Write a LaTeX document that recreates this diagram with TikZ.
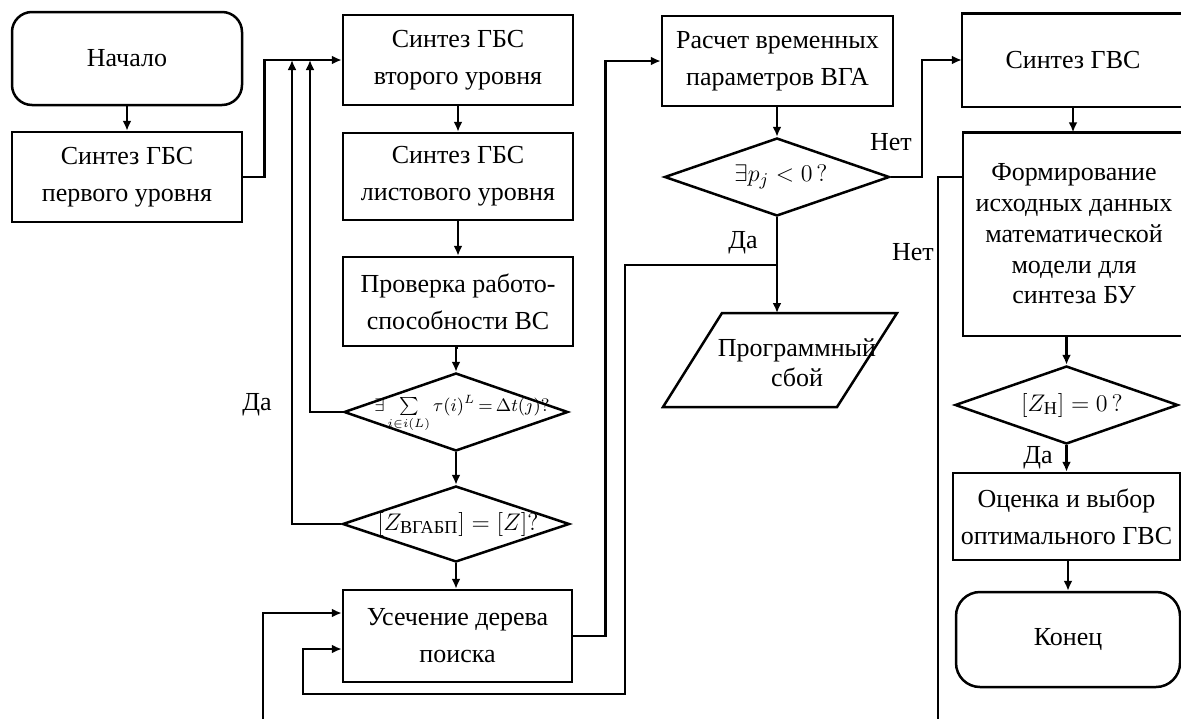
\documentclass[tikz,border=0pt]{standalone}
\usepackage{fontspec}
\setmainfont{Liberation Serif}
\usepackage{amsmath}
\usetikzlibrary{shapes.geometric,arrows.meta}
\begin{document}
\begin{tikzpicture}[x=0.5pt,y=-0.5pt,
  line width=1.25pt,
  box/.style={draw, rectangle, inner sep=0pt, align=center, font=\fontsize{13}{18.5}\selectfont},
  obox/.style={rectangle, inner sep=0pt, align=center, font=\fontsize{13}{18.5}\selectfont},
  rbox/.style={box, rounded corners=10pt},
  dia/.style={draw, diamond, inner sep=0pt},
  dtxt/.style={inner sep=0pt, font=\fontsize{13}{15}\selectfont},
  arr/.style={-{Latex[length=5pt,width=4.5pt]}},
  lbl/.style={inner sep=0pt, font=\fontsize{13}{15}\selectfont}]
\useasboundingbox (0,0) rectangle (1181,718);
\clip (0,0) rectangle (1181,718);
% left column
\node[rbox, minimum width=115pt, minimum height=46.5pt] (start) at (127,58.5) {Начало};
\node[box, minimum width=115pt, minimum height=45pt] (s1) at (127,177) {Синтез ГБС\\первого уровня};
% second column
\node[box, minimum width=115pt, minimum height=45pt] (s2) at (458,60) {Синтез ГБС\\второго уровня};
\node[box, minimum width=115pt, minimum height=43.5pt] (s3) at (458,176.5) {Синтез ГБС\\листового уровня};
\node[box, minimum width=115pt, minimum height=44.5pt] (chk) at (458,301.5) {Проверка работо-\\способности ВС};
\node[dia, minimum width=112pt, minimum height=39pt] (d1) at (456,412) {};
\node[inner sep=0pt, font=\fontsize{9}{10}\selectfont] (d1t) at (462,414) {$\exists\textstyle\sum\limits_{i\in i(L)}\tau(i)^L\mkern-2mu=\mkern-2mu\Delta t(j)?$};
\node[dia, minimum width=113.5pt, minimum height=38pt] (d2) at (456,524) {};
\node[dtxt] (d2t) at (458,524) {$\left[Z_{\text{ВГАБП}}\right]=\left[Z\right]?$};
\node[box, minimum width=114.5pt, minimum height=46pt] (cut) at (457.5,636) {Усечение дерева\\поиска};
% third column
\node[box, minimum width=115.5pt, minimum height=45pt] (calc) at (777.5,61) {Расчет временных\\параметров ВГА};
\node[dia, minimum width=112.5pt, minimum height=39pt] (dp) at (777,177) {};
\node[dtxt] (dpt) at (781,177) {$\exists p_j<0\,?$};
\draw (722,313) coordinate (fA) -- (897,313) coordinate (fB) -- (837,407) coordinate (fC) -- (663,407) coordinate (fD) -- cycle;
\node[inner sep=0pt, align=center, font=\fontsize{13}{15}\selectfont] (fail) at (797,363) {Программный\\сбой};
\coordinate (failtop) at (777,313);
% fourth column (right sides run off the page)
\node[obox, minimum width=110pt, minimum height=45.5pt] (gvs) at (1073,60) {Синтез ГВС};
\draw (gvs.north east) -- (gvs.north west) -- (gvs.south west) -- (gvs.south east);
\node[obox, minimum width=110pt, minimum height=100.5pt, font=\fontsize{13}{15.4}\selectfont] (form) at (1074,234) {Формирование\\исходных данных\\математической\\модели для\\синтеза БУ};
\draw (form.north east) -- (form.north west) -- (form.south west) -- (form.south east);
\node[dia, minimum width=111.5pt, minimum height=39pt] (dz) at (1066.5,405) {};
\node[dtxt] (dzt) at (1072,405) {$\left[Z_{\text{Н}}\right]=0\,?$};
\node[box, minimum width=113.5pt, minimum height=43.5pt] (eval) at (1066.5,516.5) {Оценка и выбор\\оптимального ГВС};
\node[rbox, rounded corners=12pt, minimum width=112pt, minimum height=47.5pt] (end) at (1068,639.5) {Конец};
% labels
\node[lbl] (da1) at (257,405) {Да};
\node[lbl] (net1) at (891,142) {Нет};
\node[lbl] (da2) at (743,243) {Да};
\node[lbl] (net2) at (913,252) {Нет};
\node[lbl] (da3) at (1038,458) {Да};
% coordinates
\coordinate (j1) at (310,60);
\coordinate (j2) at (292,60);
\coordinate (br) at (777,265);
\coordinate (fb1) at (263,720);
\coordinate (fb2) at (938,720);
% connectors
\draw[arr] (start) -- (s1);
\draw[arr] (s1.east) -- ++(21,0) |- (s2.west);
\draw[arr] (s2) -- (s3);
\draw[arr] (s3) -- (chk);
\draw[arr] (chk.south) -- (chk.south -| d1.north) -- (d1.north);
\draw[arr] (d1) -- (d2);
\draw[arr] (d2) -- (d2 |- cut.north);
\draw[arr] (d1.west) -| (j1);
\draw[arr] (d2.west) -| (j2);
\draw[arr] (cut.east) -- ++(32,0) |- (calc.west);
\draw[arr] (calc.south -| dp.north) -- (dp.north);
\draw[arr] (dp.east) -- ++(31,0) |- (gvs.west);
\draw[arr] (dp.south) -- (failtop);
\draw[arr] (br) -- (625,265) -- (625,694) -- (303,694) -- (303,649) -- ([yshift=-6.5pt]cut.west);
\draw[arr] (fb1) |- ([yshift=11.5pt]cut.west);
\draw (fb2) |- (form.west |- dp.east);
\draw[arr] (gvs.south) -- (form.north -| gvs.south);
\draw[arr] (dz.north |- form.south) -- (dz.north);
\draw[arr] (dz) -- (eval);
\draw[arr] (eval.south) -- (eval.south -| end.north) -- (end.north);
\end{tikzpicture}
\end{document}
